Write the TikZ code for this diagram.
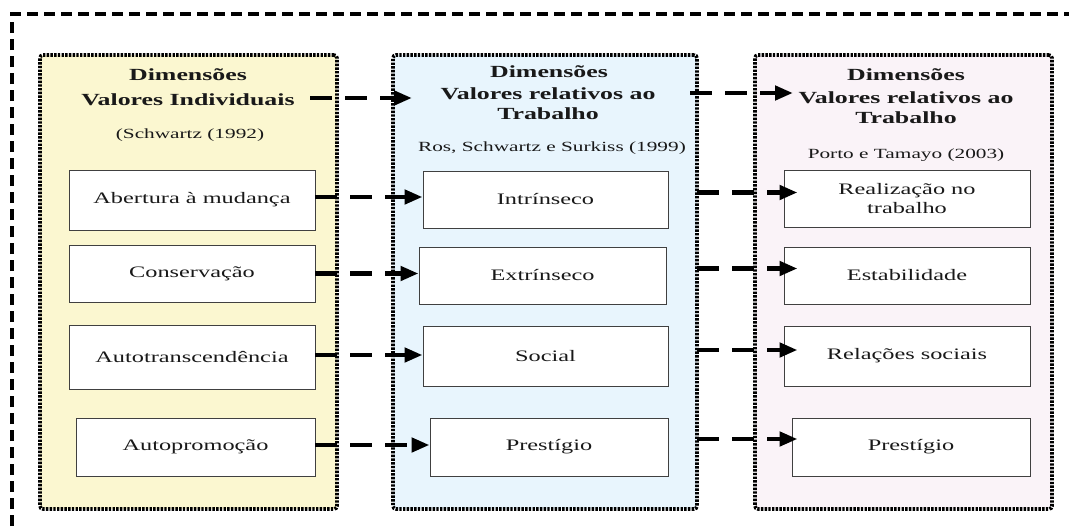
\documentclass[tikz,border=0pt]{standalone}
\usepackage{fontspec}
\setmainfont{Liberation Serif}[FakeStretch=1.52]
\usetikzlibrary{arrows.meta}
\definecolor{pyellow}{RGB}{251,247,208}
\definecolor{pblue}{RGB}{232,245,253}
\definecolor{ppink}{RGB}{250,243,248}
\definecolor{txt}{RGB}{25,25,25}
\begin{document}
\begin{tikzpicture}[x=1pt,y=-1pt,
 panel/.style={draw=black, line width=3.6pt, dash pattern=on 2.4pt off 1.3pt, rounded corners=3pt, minimum height=454pt, inner sep=0pt},
 box/.style={draw=black!75, line width=0.9pt, fill=white, inner sep=0pt, align=center, font=\fontsize{16}{19}\selectfont, text=txt},
 ttl/.style={font=\fontsize{17}{20}\selectfont\bfseries, align=center, text=txt, inner sep=0pt},
 cit/.style={font=\fontsize{14}{17}\selectfont, text=txt, inner sep=0pt},
 arr/.style={line width=4.8pt, dash pattern=on 22pt off 13pt, -{Triangle[length=18pt,width=14pt]}},
 frame/.style={line width=3.3pt, dash pattern=on 11pt off 6pt}]
\clip (0,0) rectangle (1069,530);
\useasboundingbox (0,0) rectangle (1069,530);
% outer frame
\coordinate (f1) at (12,560);
\coordinate (f2) at (12,14);
\coordinate (f3) at (1100,14);
\draw[frame] (f1) -- (f2) -- (f3);
% panels
\node[panel, fill=pyellow, minimum width=297pt] (p1) at (188.5,282) {};
\node[panel, fill=pblue, minimum width=304pt] (p2) at (545,282) {};
\node[panel, fill=ppink, minimum width=297pt] (p3) at (903.5,282) {};
% titles
\node[ttl] (t1a) at (188,75) {Dimensões};
\node[ttl] (t1b) at (188,100) {Valores Individuais};
\node[cit] (s1) at (190,135) {(Schwartz (1992)};
\node[ttl] (t2a) at (549,72) {Dimensões};
\node[ttl] (t2b) at (548,104) {Valores relativos ao\\Trabalho};
\node[cit] (s2) at (552,148) {Ros, Schwartz e Surkiss (1999)};
\node[ttl] (t3a) at (906,75) {Dimensões};
\node[ttl] (t3b) at (906,107.5) {Valores relativos ao\\Trabalho};
\node[cit] (s3) at (906,155) {Porto e Tamayo (2003)};
% boxes panel 1
\node[box, minimum width=246pt, minimum height=60pt] (b1) at (192,200) {Abertura à mudança};
\node[box, minimum width=246pt, minimum height=57pt] (b2) at (192,273.5) {Conservação};
\node[box, minimum width=246pt, minimum height=64pt] (b3) at (192,357) {Autotranscendência};
\node[box, minimum width=239pt, minimum height=58pt] (b4) at (195.5,447) {Autopromoção};
% boxes panel 2
\node[box, minimum width=245pt, minimum height=57pt] (c1) at (545.5,199.5) {Intrínseco};
\node[box, minimum width=247pt, minimum height=57pt] (c2) at (542.5,275.5) {Extrínseco};
\node[box, minimum width=245pt, minimum height=60pt] (c3) at (545.5,356) {Social};
\node[box, minimum width=238pt, minimum height=58pt] (c4) at (549,447) {Prestígio};
% boxes panel 3
\node[box, minimum width=246pt, minimum height=57pt] (d1) at (907,198.5) {Realização no\\trabalho};
\node[box, minimum width=246pt, minimum height=57pt] (d2) at (907,275.5) {Estabilidade};
\node[box, minimum width=246pt, minimum height=60pt] (d3) at (907,356) {Relações sociais};
\node[box, minimum width=238pt, minimum height=58pt] (d4) at (911,447) {Prestígio};
% header arrows
\coordinate (h1s) at (310,98);
\coordinate (h1e) at (412,98);
\coordinate (h2s) at (690,93);
\coordinate (h2e) at (793,93);
\draw[arr] (h1s) -- (h1e);
\draw[arr] (h2s) -- (h2e);
% row arrows 1 -> 2
\draw[arr] ([yshift=3pt]b1.east) -- ([yshift=3pt]b1.east -| c1.west);
\draw[arr] ([yshift=0pt]b2.east) -- ([yshift=0pt]b2.east -| c2.west);
\draw[arr] ([yshift=2pt]b3.east) -- ([yshift=2pt]b3.east -| c3.west);
\draw[arr] ([yshift=2pt]b4.east) -- ([yshift=2pt]b4.east -| c4.west);
% row arrows 2 -> 3
\draw[arr, shorten <=29pt, shorten >=-14pt] ([yshift=7pt]c1.east) -- ([yshift=7pt]c1.east -| d1.west);
\draw[arr, shorten <=31pt, shorten >=-14pt] ([yshift=7pt]c2.east) -- ([yshift=7pt]c2.east -| d2.west);
\draw[arr, shorten <=29pt, shorten >=-14pt] ([yshift=6pt]c3.east) -- ([yshift=6pt]c3.east -| d3.west);
\draw[arr, shorten <=29pt, shorten >=-6pt] ([yshift=8pt]c4.east) -- ([yshift=8pt]c4.east -| d4.west);
\end{tikzpicture}
\end{document}
